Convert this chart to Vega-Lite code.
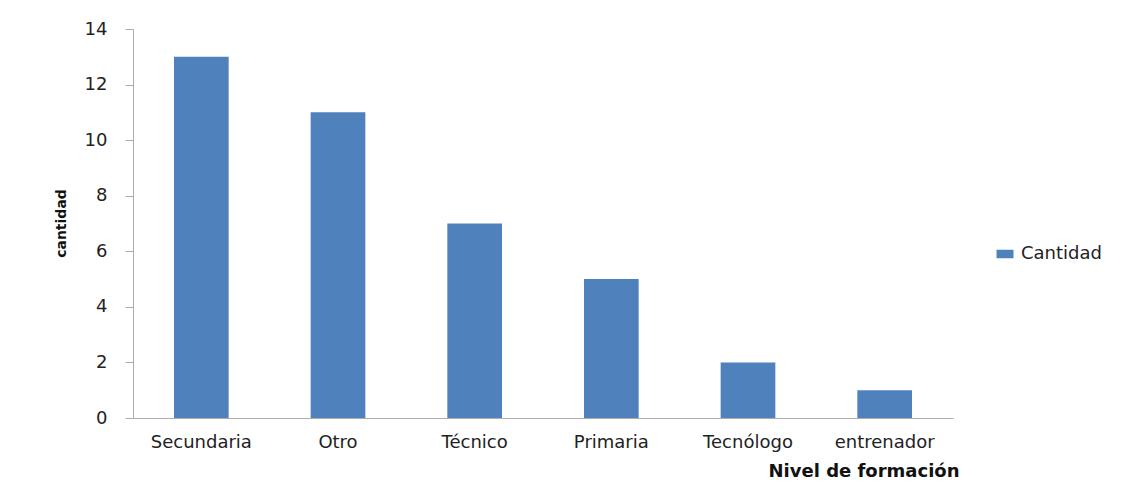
{
  "$schema": "https://vega.github.io/schema/vega-lite/v6.json",
  "width": 820,
  "height": 389,
  "autosize": {"type": "none"},
  "padding": {"left": 133, "top": 29, "right": 179, "bottom": 80},
  "background": "white",
  "config": {
    "view": {"stroke": null},
    "font": "DejaVu Sans",
    "axis": {"grid": false, "domainColor": "#ADADAD", "tickColor": "#ADADAD", "labelColor": "#222222", "titleColor": "#111111", "labelFont": "DejaVu Sans", "titleFont": "DejaVu Sans"}
  },
  "data": {
    "values": [
      {"nivel": "Secundaria", "cantidad": 13},
      {"nivel": "Otro", "cantidad": 11},
      {"nivel": "Técnico", "cantidad": 7},
      {"nivel": "Primaria", "cantidad": 5},
      {"nivel": "Tecnólogo", "cantidad": 2},
      {"nivel": "entrenador", "cantidad": 1}
    ]
  },
  "mark": {"type": "bar"},
  "encoding": {
    "x": {
      "field": "nivel",
      "type": "nominal",
      "sort": null,
      "scale": {"paddingInner": 0.6, "paddingOuter": 0.3},
      "axis": {
        "title": "Nivel de formación",
        "labelAngle": 0,
        "ticks": false,
        "tickSize": 0,
        "labelPadding": 15,
        "labelFontSize": 18,
        "titleFontSize": 18,
        "titleFontWeight": "bold",
        "titleAlign": "right",
        "titleAnchor": "end",
        "titleX": 826,
        "titleY": 58,
        "titleBaseline": "alphabetic"
      }
    },
    "y": {
      "field": "cantidad",
      "type": "quantitative",
      "scale": {"domain": [0, 14], "nice": false},
      "axis": {
        "title": "cantidad",
        "values": [0, 2, 4, 6, 8, 10, 12, 14],
        "tickSize": 8,
        "labelPadding": 18,
        "labelFontSize": 18,
        "titleFontSize": 14,
        "titleFontWeight": "bold",
        "titleX": -72,
        "titleY": 194,
        "titleAlign": "center",
        "titleBaseline": "middle",
        "titleAngle": -90
      }
    },
    "color": {
      "datum": "Cantidad",
      "type": "nominal",
      "scale": {"range": ["#4F81BD"]},
      "legend": {
        "title": null,
        "orient": "none",
        "legendX": 863,
        "legendY": 216,
        "symbolType": "M-1,-0.5H1V0.5H-1Z",
        "symbolSize": 289,
        "symbolStrokeWidth": 0,
        "labelFontSize": 18,
        "labelColor": "#222222",
        "labelOffset": 7
      }
    }
  }
}
